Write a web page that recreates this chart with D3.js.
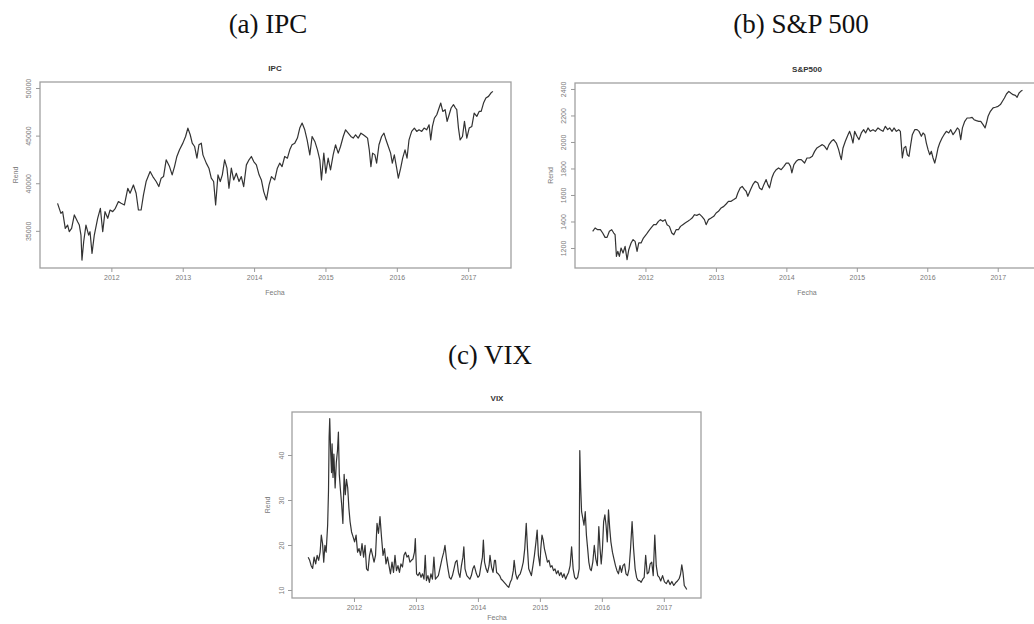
<!DOCTYPE html>
<html>
<head>
<meta charset="utf-8">
<script src="https://cdnjs.cloudflare.com/ajax/libs/d3/7.8.5/d3.min.js"></script>
<style>
	body { margin: 0; background: #fff; }
	svg { display: block; }
	.caption { font-family: "Liberation Serif", "Times New Roman", serif; font-size: 27px; fill: #111; }
	.ptitle { font-family: "Liberation Sans", Arial, sans-serif; font-weight: bold; font-size: 8px; fill: #333; }
	.axis text, .alabel { font-family: "Liberation Sans", Arial, sans-serif; font-size: 7px; fill: #7a7a7a; }
	.axis line { stroke: #999; }
</style>
</head>
<body>
<svg id="figure" width="1034" height="624"></svg>
<script>
// tick labels
var yearTicks = [2012, 2013, 2014, 2015, 2016, 2017];
var ipcTicks = [35000, 40000, 45000, 50000];
var spxTicks = [1200, 1400, 1600, 1800, 2000, 2200, 2400];
var vixTicks = [10, 20, 30, 40];
var xDomain = [2011.0, 2017.6];

// IPC
var ipcYears = [2011.246,2011.293,2011.317,2011.354,2011.387,2011.410,2011.443,2011.481,2011.527,2011.551,2011.574,2011.588,2011.612,2011.644,2011.682,2011.701,2011.729,2011.761,2011.808,2011.846,2011.879,2011.911,2011.949,2011.982,2012.019,2012.056,2012.099,2012.136,2012.183,2012.230,2012.262,2012.309,2012.347,2012.379,2012.417,2012.450,2012.487,2012.543,2012.581,2012.628,2012.665,2012.698,2012.731,2012.768,2012.815,2012.852,2012.885,2012.918,2012.955,2013.002,2013.040,2013.072,2013.105,2013.133,2013.166,2013.199,2013.227,2013.260,2013.283,2013.330,2013.367,2013.400,2013.433,2013.461,2013.494,2013.526,2013.555,2013.587,2013.620,2013.648,2013.681,2013.714,2013.751,2013.789,2013.821,2013.854,2013.892,2013.929,2013.962,2013.995,2014.032,2014.070,2014.102,2014.135,2014.173,2014.210,2014.243,2014.289,2014.326,
	2014.359,2014.392,2014.429,2014.467,2014.500,2014.532,2014.570,2014.607,2014.640,2014.673,2014.710,2014.743,2014.781,2014.813,2014.851,2014.888,2014.921,2014.944,2014.977,2015.005,2015.038,2015.071,2015.108,2015.141,2015.179,2015.211,2015.249,2015.282,2015.319,2015.356,2015.389,2015.422,2015.459,2015.497,2015.530,2015.562,2015.590,2015.614,2015.637,2015.661,2015.693,2015.717,2015.750,2015.787,2015.820,2015.848,2015.881,2015.913,2015.937,2015.965,2015.998,2016.021,2016.054,2016.082,2016.115,2016.143,2016.171,2016.208,2016.246,2016.279,2016.311,2016.349,2016.382,2016.419,2016.452,2016.475,2016.499,2016.527,2016.560,2016.592,2016.616,2016.644,2016.677,2016.705,2016.733,2016.761,2016.794,2016.822,2016.840,2016.864,2016.887,2016.920,2016.948,2016.981,2017.014,2017.051,2017.084,2017.121,2017.154,2017.182,2017.215,2017.248,2017.285,2017.318,2017.346];
var ipcValues = [37890,36840,37020,35260,35610,34910,35260,36670,35960,35610,34560,31930,33860,35610,34560,34910,32630,34560,36320,37370,34910,37020,36320,37190,37020,37370,38070,37890,37720,39470,38950,39820,38950,37190,37190,38770,40180,41230,40700,40180,39650,40530,40700,42460,41750,40880,41750,42810,43510,44210,44910,45790,45090,44210,43860,42630,44040,44210,42980,42110,41580,40530,40180,37720,40880,40180,40880,42460,41580,39470,41580,40350,41050,40180,40700,39650,41930,42460,42810,42280,41930,40880,40350,39120,38250,39820,40700,40350,41580,
	42110,41750,42810,42630,43510,44040,44210,44740,45790,46320,45610,44560,42980,44910,44390,43510,42460,40350,43160,41050,42630,41400,42980,44040,43160,43860,44910,45610,45260,44910,44740,45090,44740,45260,45090,44910,44740,43510,41750,43160,42980,42110,44040,44910,45260,44560,43860,43160,42110,42980,41580,40530,41580,42630,43510,42630,44560,45440,45790,45440,45610,45440,45790,45610,46140,44560,45970,46840,47190,47900,48420,47540,47720,46490,47190,47900,48250,47900,47720,45790,44560,44910,46490,44740,45790,45970,47370,47020,47540,47540,48420,48950,49120,49470,49650];

// S&P 500
var spxYears = [2011.251,2011.285,2011.322,2011.360,2011.393,2011.427,2011.455,2011.488,2011.521,2011.550,2011.569,2011.588,2011.607,2011.630,2011.654,2011.682,2011.711,2011.739,2011.763,2011.796,2011.824,2011.853,2011.881,2011.905,2011.938,2011.971,2012.009,2012.042,2012.080,2012.118,2012.151,2012.184,2012.213,2012.246,2012.279,2012.307,2012.340,2012.374,2012.402,2012.435,2012.468,2012.497,2012.530,2012.563,2012.601,2012.634,2012.662,2012.696,2012.729,2012.767,2012.800,2012.837,2012.861,2012.894,2012.932,2012.970,2013.003,2013.036,2013.074,2013.112,2013.145,2013.178,2013.216,2013.254,2013.287,2013.311,2013.344,2013.373,2013.406,2013.429,2013.453,2013.491,2013.524,2013.557,2013.595,2013.619,2013.652,2013.680,2013.713,2013.737,2013.761,2013.794,2013.822,2013.856,2013.889,2013.927,2013.965,2013.998,2014.031,2014.059,2014.078,2014.107,2014.140,2014.173,2014.211,
	2014.259,2014.292,2014.330,2014.368,2014.401,2014.434,2014.472,2014.510,2014.543,2014.576,2014.605,2014.638,2014.671,2014.709,2014.742,2014.766,2014.780,2014.804,2014.837,2014.875,2014.898,2014.922,2014.946,2014.969,2015.002,2015.031,2015.064,2015.097,2015.125,2015.159,2015.192,2015.230,2015.263,2015.301,2015.334,2015.372,2015.405,2015.438,2015.466,2015.500,2015.528,2015.561,2015.594,2015.618,2015.632,2015.646,2015.670,2015.694,2015.717,2015.741,2015.765,2015.788,2015.822,2015.855,2015.883,2015.916,2015.940,2015.964,2015.987,2016.011,2016.035,2016.058,2016.082,2016.106,2016.129,2016.153,2016.177,2016.210,2016.238,2016.271,2016.305,2016.333,2016.366,2016.399,2016.427,2016.451,2016.475,2016.499,2016.532,2016.565,2016.603,2016.636,2016.664,2016.697,2016.731,2016.759,2016.792,2016.821,2016.840,2016.863,2016.896,2016.934,2016.967,2017.005,2017.038,2017.067,2017.095,2017.124,2017.157,2017.185,2017.218,2017.251,2017.275,2017.303,2017.327,2017.351];
var spxValues = [1326,1351,1338,1338,1313,1280,1280,1326,1338,1313,1300,1137,1175,1137,1200,1162,1212,1112,1187,1238,1263,1250,1175,1238,1238,1275,1300,1326,1351,1376,1376,1401,1414,1401,1414,1376,1363,1313,1300,1338,1338,1363,1376,1389,1401,1414,1426,1451,1446,1456,1439,1414,1376,1414,1426,1439,1464,1477,1502,1514,1532,1552,1552,1565,1577,1615,1653,1665,1640,1628,1590,1640,1678,1703,1690,1653,1640,1678,1716,1678,1653,1728,1766,1791,1804,1791,1816,1841,1841,1816,1766,1829,1854,1867,1867,
	1841,1879,1879,1892,1929,1955,1967,1980,1967,1942,1980,2005,2018,1992,1942,1892,1867,1955,2005,2055,2080,2043,1992,2080,2043,2018,2068,2093,2068,2106,2080,2093,2080,2106,2093,2080,2118,2093,2106,2080,2106,2080,2093,2080,1980,1879,1955,1967,1904,1892,1980,2055,2093,2093,2080,2043,2068,2055,1992,1942,1904,1929,1879,1841,1892,1955,1992,2030,2055,2080,2068,2093,2055,2080,2106,2093,2018,2106,2156,2181,2181,2186,2168,2161,2156,2156,2131,2106,2143,2194,2231,2257,2262,2269,2282,2307,2332,2362,2382,2370,2357,2352,2337,2370,2382,2390];

// VIX
var vixYears = [2011.261,2011.285,2011.309,2011.333,2011.357,2011.382,2011.406,2011.430,2011.454,2011.473,2011.493,2011.512,2011.531,2011.551,2011.575,2011.589,2011.599,2011.609,2011.623,2011.638,2011.647,2011.662,2011.676,2011.696,2011.715,2011.734,2011.749,2011.763,2011.783,2011.802,2011.821,2011.841,2011.860,2011.879,2011.899,2011.918,2011.937,2011.961,2011.986,2012.010,2012.034,2012.058,2012.082,2012.106,2012.130,2012.155,2012.179,2012.203,2012.227,2012.251,2012.275,2012.300,2012.324,2012.348,2012.372,2012.396,2012.420,2012.444,2012.469,2012.493,2012.517,2012.541,2012.565,2012.589,2012.614,2012.638,2012.662,2012.686,2012.710,2012.734,2012.758,2012.783,2012.807,2012.831,2012.855,2012.879,2012.903,2012.928,2012.952,2012.976,2012.990,2013.010,2013.034,2013.058,2013.082,2013.106,2013.130,2013.150,2013.169,2013.193,2013.217,2013.242,2013.266,2013.290,2013.314,2013.338,2013.362,2013.386,2013.420,2013.449,2013.469,2013.493,2013.517,2013.541,2013.565,2013.589,2013.614,2013.638,2013.662,2013.686,2013.710,2013.734,2013.758,2013.773,2013.792,2013.821,2013.845,2013.870,2013.894,2013.918,
	2013.941,2013.976,2014.000,2014.024,2014.049,2014.073,2014.088,2014.107,2014.132,2014.156,2014.180,2014.195,2014.220,2014.244,2014.268,2014.283,2014.302,2014.327,2014.351,2014.376,2014.400,2014.424,2014.449,2014.473,2014.498,2014.522,2014.546,2014.571,2014.585,2014.610,2014.634,2014.659,2014.683,2014.707,2014.732,2014.756,2014.780,2014.800,2014.820,2014.844,2014.863,2014.888,2014.912,2014.937,2014.956,2014.976,2015.000,2015.015,2015.034,2015.054,2015.073,2015.098,2015.122,2015.146,2015.171,2015.195,2015.220,2015.244,2015.268,2015.293,2015.317,2015.341,2015.366,2015.390,2015.415,2015.439,2015.463,2015.488,2015.512,2015.537,2015.561,2015.585,2015.610,2015.634,2015.644,2015.659,2015.673,2015.693,2015.712,2015.732,2015.751,2015.771,2015.790,2015.810,2015.829,2015.854,2015.878,2015.902,2015.927,2015.951,2015.971,2015.990,2016.010,2016.029,2016.049,2016.068,2016.088,2016.107,2016.127,2016.146,2016.171,2016.195,2016.220,2016.244,2016.268,2016.293,2016.317,2016.341,2016.366,2016.390,2016.415,2016.439,2016.463,2016.488,2016.512,2016.537,2016.561,2016.585,2016.610,2016.634,2016.659,2016.683,2016.707,2016.732,2016.756,2016.780,2016.805,2016.829,2016.854,2016.878,2016.902,2016.927,
	2016.950,2016.980,2017.010,2017.040,2017.070,2017.100,2017.130,2017.160,2017.190,2017.220,2017.250,2017.270,2017.290,2017.310,2017.330,2017.350,2017.370];
var vixValues = [17.3,16.6,15.4,14.8,17.3,15.8,17.7,16.6,18.4,22.2,20.3,16.2,19.9,18.4,24.4,32.0,44.0,48.1,41.0,36.1,42.5,35.0,40.2,32.7,38.3,41.0,45.1,35.7,32.0,28.9,24.8,35.7,31.2,34.6,32.7,28.2,25.2,22.9,21.8,20.7,22.2,18.4,19.2,17.7,20.3,17.3,19.9,14.7,14.3,17.7,19.2,17.7,16.2,17.7,24.8,22.6,26.3,21.8,17.7,19.2,15.8,17.3,15.4,13.6,16.2,13.9,17.7,14.3,15.4,13.9,15.8,15.1,17.7,18.4,17.3,17.7,16.2,16.6,16.9,18.4,21.4,13.6,13.2,13.9,12.8,13.6,12.4,17.7,12.1,13.2,11.7,13.6,12.4,17.3,12.4,12.8,13.2,14.7,16.9,18.4,19.9,16.9,14.7,12.8,12.4,13.2,14.7,16.2,16.6,13.9,12.8,15.4,17.3,19.6,14.7,13.2,12.8,12.4,13.2,14.7,
	15.4,13.6,12.8,13.2,15.4,17.3,21.1,16.2,14.7,13.9,15.4,17.7,15.1,13.9,16.6,16.6,13.9,13.6,13.2,12.4,12.1,11.7,11.3,10.9,10.6,11.7,12.4,14.3,16.6,13.6,12.4,13.2,13.6,14.7,16.2,19.2,24.8,19.2,14.7,13.9,13.2,15.4,17.7,20.7,23.3,17.7,15.4,19.2,22.2,21.1,19.2,17.7,16.2,16.6,15.1,15.4,14.3,14.7,13.6,14.3,13.2,13.9,12.8,13.6,12.4,13.2,13.9,15.4,19.6,14.7,12.8,12.4,12.8,14.7,41.0,32.7,27.4,25.9,24.4,27.4,22.2,19.2,16.2,14.7,14.3,16.2,19.9,16.9,15.4,24.1,19.2,15.8,19.2,25.2,26.7,24.4,20.7,27.8,23.7,20.7,18.4,16.9,15.4,14.3,13.6,15.4,13.9,15.4,15.8,13.6,13.2,14.7,19.2,25.2,19.2,14.7,12.8,12.1,12.1,11.7,12.4,12.8,17.7,13.6,13.9,15.8,16.2,13.2,22.2,15.4,13.2,12.8,
	12.0,13.2,11.8,11.4,12.2,11.2,11.9,11.0,11.6,12.0,12.6,13.5,15.6,13.8,11.0,10.6,10.1];

var svg = d3.select("#figure");

function SeriesPanel(cfg) {
	var x = d3.scaleLinear()
		.domain(xDomain)
		.range([cfg.left, cfg.right]);
	var y = d3.scaleLinear()
		.domain(cfg.yDomain)
		.range([cfg.bottom, cfg.top]);
	var g = svg.append("g");
	var midX = cfg.titleX;

	// caption above the plot
	svg.append("text")
		.attr("class", "caption")
		.attr("x", cfg.capX)
		.attr("y", cfg.capY)
		.attr("text-anchor", "middle")
		.text(cfg.caption);

	var line = d3.line()
		.x(function (d, i) { return x(cfg.years[i]); })
		.y(function (d) { return y(d); });
	g.append("path")
		.datum(cfg.values)
		.attr("d", line)
		.attr("fill", "none")
		.attr("stroke", "#333")
		.attr("stroke-width", 1.2)
		.attr("stroke-linejoin", "round");

	// frame
	g.append("rect")
		.attr("x", cfg.left)
		.attr("y", cfg.top)
		.attr("width", cfg.right - cfg.left)
		.attr("height", cfg.bottom - cfg.top)
		.attr("fill", "none")
		.attr("stroke", "#a0a0a0")
		.attr("stroke-width", 1.3);

	var xAxis = d3.axisBottom(x)
		.tickValues(yearTicks)
		.tickFormat(d3.format("d"))
		.tickSize(4)
		.tickPadding(3);
	g.append("g")
		.attr("class", "axis")
		.attr("transform", "translate(0," + cfg.bottom + ")")
		.call(xAxis)
		.call(function (a) { a.select(".domain").remove(); });

	var yAxis = d3.axisLeft(y)
		.tickValues(cfg.yTicks)
		.tickFormat(d3.format("d"))
		.tickSize(4);
	var ya = g.append("g")
		.attr("class", "axis")
		.attr("transform", "translate(" + cfg.left + ",0)")
		.call(yAxis)
		.call(function (a) { a.select(".domain").remove(); });
	ya.selectAll("text")
		.attr("x", 0)
		.attr("y", -cfg.labelOff)
		.attr("dy", "0.35em")
		.attr("text-anchor", "middle")
		.attr("transform", "rotate(-90)");

	// titles
	g.append("text")
		.attr("class", "ptitle")
		.attr("x", midX)
		.attr("y", cfg.top - 11)
		.attr("text-anchor", "middle")
		.text(cfg.title);
	g.append("text")
		.attr("class", "alabel")
		.attr("x", midX)
		.attr("y", Math.min(cfg.bottom + 27, 620))
		.attr("text-anchor", "middle")
		.text("Fecha");
	g.append("text")
		.attr("class", "alabel")
		.attr("transform", "translate(" + (cfg.left - 24) + "," + ((cfg.top + cfg.bottom) / 2) + ") rotate(-90)")
		.attr("dy", "0.35em")
		.attr("text-anchor", "middle")
		.text("Rend");
}

SeriesPanel({caption: "(a) IPC", capX: 268, capY: 33, title: "IPC", titleX: 275,
	left: 40, right: 511, top: 82, bottom: 268, labelOff: 11,
	yDomain: [31100, 50630], yTicks: ipcTicks, years: ipcYears, values: ipcValues});
SeriesPanel({caption: "(b) S&P 500", capX: 801, capY: 33, title: "S&P500", titleX: 807,
	left: 575, right: 1040, top: 83, bottom: 268, labelOff: 11,
	yDomain: [1049, 2445], yTicks: spxTicks, years: spxYears, values: spxValues});
SeriesPanel({caption: "(c) VIX", capX: 490, capY: 364, title: "VIX", titleX: 497,
	left: 292, right: 701, top: 412, bottom: 598, labelOff: 10,
	yDomain: [8.22, 49.56], yTicks: vixTicks, years: vixYears, values: vixValues});
</script>
</body>
</html>
